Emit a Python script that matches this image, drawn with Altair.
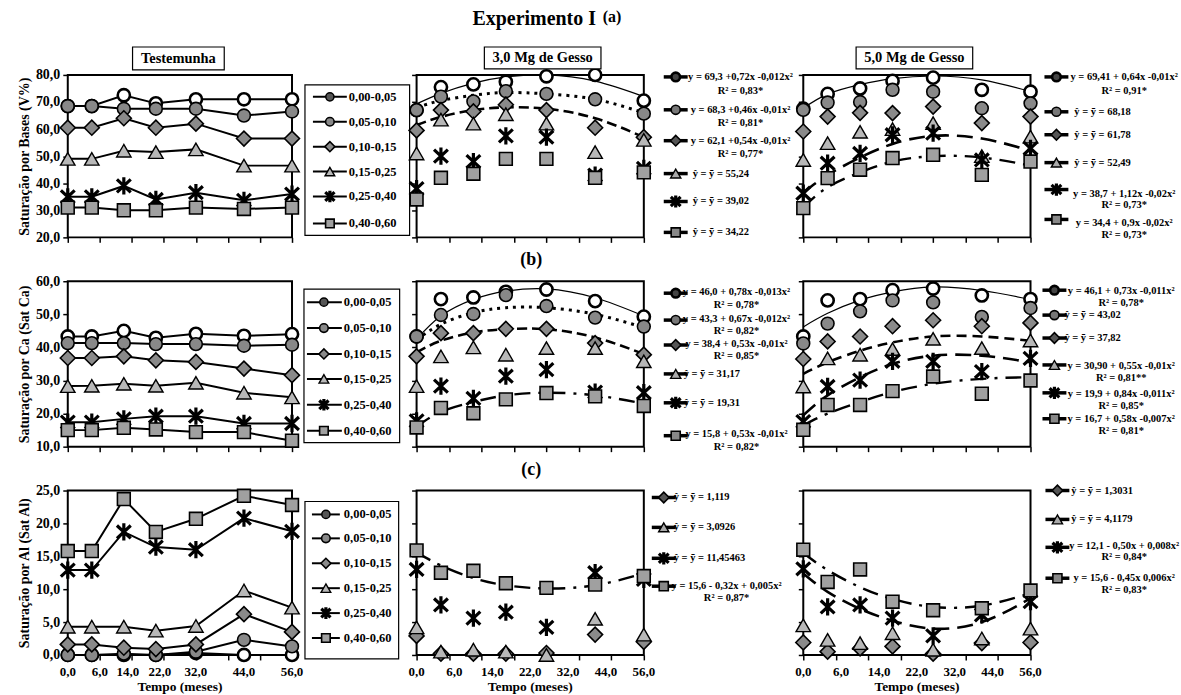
import altair as alt
import pandas as pd

FONT = "Liberation Serif"

MONTHS = [0, 6, 14, 22, 32, 44, 56]
DEPTHS = ["0,00-0,05", "0,05-0,10", "0,10-0,15", "0,15-0,25", "0,25-0,40", "0,40-0,60"]
XTICKS = [0, 8, 16, 24, 32, 40, 48, 56]
XLABELS = ["0,0", "6,0", "14,0", "22,0", "32,0", "44,0", "56,0"]
XLAB_POS_TEST = [0, 8, 15, 23, 32, 44, 56]
XLAB_POS_GESSO = [0, 9.33, 18.67, 28, 37.33, 46.67, 56]
PANEL_TITLES = ["Testemunha", "3,0 Mg de Gesso", "5,0 Mg de Gesso"]
Y_TITLES = ["Saturação por Bases (V%)", "Saturação por Ca (Sat Ca)", "Saturação por Al (Sat Al)"]

# ---------------- (a) V% ----------------
V_TEST = {
    0: [68.5, 68.5, 72.5, 69.5, 71.0, 71.0, 71.0],
    1: [68.5, 68.5, 67.5, 67.5, 67.5, 65.0, 66.5],
    2: [60.5, 60.5, 64.0, 60.5, 62.0, 56.5, 56.5],
    3: [49.0, 49.0, 52.0, 51.5, 52.5, 46.5, 46.5],
    4: [35.0, 35.0, 39.0, 34.0, 36.5, 33.7, 36.0],
    5: [31.0, 31.0, 30.0, 30.0, 31.0, 30.5, 31.0],
}
V_G3 = {
    0: [67.0, 75.5, 76.5, 77.5, 79.5, 80.0, 70.5],
    1: [67.0, 72.0, 70.2, 74.0, 73.0, 71.0, 65.7],
    2: [59.5, 67.0, 66.5, 69.0, 67.0, 60.5, 57.0],
    3: [51.0, 63.5, 62.0, 65.5, 62.0, 51.5, 56.0],
    4: [38.0, 50.0, 48.0, 57.5, 57.0, 43.0, 45.5],
    5: [34.0, 42.0, 43.5, 49.0, 49.0, 42.0, 44.0],
}
V_G3_FIT = {
    0: [69.3, 73.2, 77.0, 79.3, 80.0, 77.7, 72.0],
    1: [68.0, 70.5, 72.5, 73.5, 73.0, 71.0, 66.0],
    2: [61.5, 64.5, 67.0, 68.0, 67.5, 64.0, 57.0],
}
V_G5 = {
    0: [67.5, 73.0, 75.0, 77.8, 79.0, 74.5, 73.8],
    1: [67.1, 69.8, 70.0, 74.5, 73.8, 67.7, 69.5],
    2: [59.1, 64.6, 66.0, 65.9, 68.3, 62.2, 64.6],
    3: [48.6, 54.8, 59.0, 60.0, 62.2, 50.0, 57.2],
    4: [36.3, 47.4, 51.0, 57.9, 58.5, 48.6, 52.9],
    5: [30.8, 41.9, 45.0, 49.3, 50.5, 43.1, 48.0],
}
V_G5_FIT = {
    0: [67.7, 72.9, 76.4, 78.6, 79.6, 78.2, 73.9],
    4: [36.5, 43.0, 49.5, 54.5, 57.5, 56.5, 52.0],
    5: [31.0, 38.5, 44.0, 48.0, 50.0, 49.5, 46.5],
}

# ---------------- (b) Sat Ca ----------------
CA_TEST = {
    0: [43.3, 43.3, 45.0, 42.9, 44.1, 43.5, 44.0],
    1: [41.3, 41.3, 41.3, 41.0, 41.0, 40.5, 40.8],
    2: [36.8, 36.8, 37.3, 36.1, 35.6, 33.6, 31.6],
    3: [28.3, 28.4, 29.0, 28.4, 29.3, 26.3, 24.9],
    4: [17.4, 17.4, 18.4, 19.2, 19.2, 17.0, 17.0],
    5: [15.0, 15.0, 15.7, 15.2, 14.4, 14.4, 11.8],
}
CA_G3 = {
    0: [43.3, 54.6, 55.1, 56.8, 57.5, 54.0, 49.3],
    1: [43.3, 49.8, 50.1, 55.8, 52.5, 49.0, 46.3],
    2: [37.3, 44.3, 44.3, 45.6, 45.6, 41.3, 37.8],
    3: [28.3, 37.3, 40.0, 37.8, 39.8, 39.8, 35.8],
    4: [17.8, 28.3, 24.6, 31.3, 33.3, 26.5, 26.3],
    5: [15.8, 21.7, 20.1, 24.3, 26.2, 25.2, 22.3],
}
CA_G3_FIT = {
    0: [42.5, 49.5, 54.5, 57.0, 57.7, 55.0, 49.5],
    1: [42.3, 47.0, 50.5, 52.0, 52.0, 50.0, 46.0],
    2: [38.5, 42.0, 44.5, 45.5, 45.5, 43.0, 38.0],
    5: [16.0, 20.5, 23.5, 25.5, 26.3, 25.5, 23.0],
}
CA_G5 = {
    0: [43.3, 54.2, 54.6, 57.3, 57.8, 55.7, 54.6],
    1: [41.2, 47.2, 50.9, 54.2, 53.6, 49.2, 51.9],
    2: [36.5, 41.8, 43.3, 46.4, 48.2, 46.4, 47.4],
    3: [28.2, 36.7, 37.8, 39.5, 42.6, 39.8, 42.1],
    4: [17.6, 28.2, 30.1, 35.8, 35.8, 32.7, 36.7],
    5: [15.1, 22.6, 22.6, 26.8, 31.2, 26.0, 30.0],
}
CA_G5_FIT = {
    0: [46.2, 50.3, 54.3, 56.8, 58.3, 57.2, 54.5],
    3: [32.0, 35.5, 39.0, 41.5, 43.3, 43.3, 42.0],
    4: [19.5, 25.5, 31.0, 35.0, 37.5, 37.5, 35.5],
    5: [16.5, 20.0, 23.5, 26.5, 29.0, 30.5, 31.0],
}

# ---------------- (c) Sat Al ----------------
AL_TEST = {
    0: [0.0, 0.0, 0.0, 0.0, 0.3, 0.0, 0.0],
    1: [0.0, 0.0, 0.2, 0.0, 0.5, 2.3, 1.3],
    2: [1.6, 1.6, 1.1, 0.9, 1.6, 6.2, 3.5],
    3: [4.3, 4.3, 4.3, 3.7, 4.4, 9.8, 7.2],
    4: [12.9, 12.9, 18.7, 16.4, 16.0, 20.8, 18.8],
    5: [15.8, 15.8, 23.7, 18.7, 20.7, 24.2, 22.8],
}
AL_G3 = {
    2: [2.9, 0.2, 0.2, 0.2, 0.3, 3.1, 2.0],
    3: [4.2, 0.5, 0.8, 0.5, 0.0, 5.5, 3.1],
    4: [13.0, 7.6, 5.6, 6.5, 4.2, 12.5, 11.5],
    5: [15.9, 12.5, 12.8, 10.9, 10.2, 10.7, 12.0],
}
AL_G3_FIT = {
    5: [15.6, 13.6, 11.7, 10.6, 10.1, 10.6, 12.4],
}
AL_G5 = {
    2: [1.9, 0.5, 1.0, 1.3, 0.2, 1.8, 1.9],
    3: [4.5, 2.3, 1.8, 3.3, 0.8, 2.5, 4.0],
    4: [13.1, 7.3, 7.6, 5.6, 2.9, 6.1, 8.1],
    5: [16.0, 11.1, 13.0, 8.1, 6.8, 7.1, 9.8],
}
AL_G5_FIT = {
    4: [12.4, 9.6, 7.0, 5.2, 4.0, 5.0, 8.6],
    5: [15.5, 12.9, 10.3, 8.5, 7.3, 7.5, 9.4],
}

# ---------------- legend texts ----------------
LEG_A3 = [
    ["y = 69,3 +0,72x -0,012x²", "R² = 0,83*"],
    ["y = 68,3 +0,46x -0,01x²", "R² = 0,81*"],
    ["y = 62,1 +0,54x -0,01x²", "R² = 0,77*"],
    ["ŷ = ȳ =  55,24"],
    ["ŷ = ȳ =  39,02"],
    ["ŷ = ȳ =  34,22"],
]
LEG_A5 = [
    ["y = 69,41 + 0,64x -0,01x²", "R² = 0,91*"],
    ["ŷ = ȳ =  68,18"],
    ["ŷ = ȳ =  61,78"],
    ["ŷ = ȳ =  52,49"],
    ["y = 38,7 + 1,12x -0,02x²", "R² = 0,73*"],
    ["y = 34,4 + 0,9x -0,02x²", "R² = 0,73*"],
]
LEG_B3 = [
    ["y = 46,0 + 0,78x -0,013x²", "R² = 0,78*"],
    ["y = 43,3 + 0,67x -0,012x²", "R² = 0,82*"],
    ["y = 38,4 + 0,53x -0,01x²", "R² = 0,85*"],
    ["ŷ = ȳ =  31,17"],
    ["ŷ = ȳ = 19,31"],
    ["y = 15,8 + 0,53x -0,01x²", "R² = 0,82*"],
]
LEG_B5 = [
    ["y = 46,1 + 0,73x -0,011x²", "R² = 0,78*"],
    ["ŷ = ȳ = 43,02"],
    ["ŷ = ȳ =  37,82"],
    ["y = 30,90 + 0,55x -0,01x²", "R² = 0,81**"],
    ["y = 19,9 + 0,84x -0,011x²", "R² = 0,85*"],
    ["y = 16,7 + 0,58x -0,007x²", "R² = 0,81*"],
]
LEG_C3 = [
    ["ŷ = ȳ =  1,119"],
    ["ŷ = ȳ =  3,0926"],
    ["ŷ = ȳ =  11,45463"],
    ["y = 15,6  - 0,32x + 0,005x²", "R² = 0,87*"],
]
LEG_C5 = [
    ["ŷ = ȳ =  1,3031"],
    ["ŷ = ȳ =  4,1179"],
    ["y = 12,1  - 0,50x + 0,008x²", "R² = 0,84*"],
    ["y = 15,6 - 0,45x 0,006x²", "R² = 0,83*"],
]

# ---------------- styles ----------------
ASTER = "M-0.8,-0.75L0.8,0.75M-0.8,0.75L0.8,-0.75M0,-1L0,1"
STYLE = [
    dict(shape="circle", filled=True, fill="white", stroke="black", strokeWidth=2.6, size=150),
    dict(shape="circle", filled=True, fill="#888888", stroke="black", strokeWidth=1.6, size=165),
    dict(shape="diamond", filled=True, fill="#8a8a8a", stroke="black", strokeWidth=1.6, size=225),
    dict(shape="triangle-up", filled=True, fill="#b8b8b8", stroke="black", strokeWidth=1.4, size=210),
    dict(shape=ASTER, filled=False, stroke="black", strokeWidth=3.2, size=300),
    dict(shape="square", filled=True, fill="#a0a0a0", stroke="black", strokeWidth=1.6, size=165),
]
LEG_FILL = ["#444444", "#777777", "#555555", "#aaaaaa", "black", "#888888"]
FIT_STYLE = {
    0: dict(strokeWidth=1.2),
    1: dict(strokeWidth=3, strokeDash=[3, 5]),
    2: dict(strokeWidth=2.6, strokeDash=[10, 5]),
    3: dict(strokeWidth=2.6, strokeDash=[10, 6]),
    4: dict(strokeWidth=2.6, strokeDash=[16, 8]),
    5: dict(strokeWidth=2.4, strokeDash=[16, 8, 3, 8]),
}

W1, W2, W3 = 225, 228, 228
LW1, LW2, LW3 = 125, 160, 150
H = [163, 166, 165]
FRAME = alt.ViewBackground(stroke="black", strokeWidth=2, strokeOpacity=1)
NOFRAME = alt.ViewBackground(strokeOpacity=0)


def txt(t, x, y, size, align="center"):
    return alt.Chart(pd.DataFrame({"t": [t]})).mark_text(
        font=FONT, fontSize=size, fontWeight="bold", align=align, baseline="middle", color="black"
    ).encode(x=alt.value(x), y=alt.value(y), text="t:N")


def box(x1, x2, y1, y2, sw=1.2):
    return alt.Chart(pd.DataFrame({"a": [0]})).mark_rect(
        fill="white", stroke="black", strokeWidth=sw
    ).encode(x=alt.value(x1), x2=alt.value(x2), y=alt.value(y1), y2=alt.value(y2))


def panel(points, fits, ydom, yvals, W, Hh, col, ytitle="", connect=False, xlabpos=None, decor=()):
    xenc = alt.X("x:Q", scale=alt.Scale(domain=[0, 56], nice=False, zero=False),
                 axis=alt.Axis(values=XTICKS, labels=False, ticks=True, tickSize=5, tickWidth=1.5,
                               tickColor="black", domain=False, grid=False, title=""))
    yaxis = alt.Axis(values=yvals, labels=(col == 0), ticks=True, tickSize=5, tickWidth=1.5,
                     tickColor="black", domain=False, grid=False,
                     title=(ytitle if col == 0 else ""),
                     labelExpr="replace(format(datum.value, '.1f'), '.', ',')",
                     labelFont=FONT, labelFontSize=14, labelFontWeight="bold", labelColor="black",
                     labelPadding=3, titleFont=FONT, titleFontSize=14, titleFontWeight="bold",
                     titleColor="black", titlePadding=4)
    yenc = alt.Y("y:Q", scale=alt.Scale(domain=ydom, nice=False, zero=False), axis=yaxis)
    layers = []
    for k, vals in fits.items():
        layers.append(alt.Chart(pd.DataFrame({"x": MONTHS, "y": vals})).mark_line(
            color="black", interpolate="natural", **FIT_STYLE[k]).encode(x=xenc, y=yenc))
    if connect:
        for k, vals in points.items():
            layers.append(alt.Chart(pd.DataFrame({"x": MONTHS, "y": vals})).mark_line(
                color="black", strokeWidth=2).encode(x=xenc, y=yenc))
    for k, vals in points.items():
        layers.append(alt.Chart(pd.DataFrame({"x": MONTHS, "y": vals})).mark_point(
            opacity=1, **STYLE[k]).encode(x=xenc, y=yenc))
    if xlabpos is not None:
        layers.append(alt.Chart(pd.DataFrame({"x": xlabpos, "t": XLABELS})).mark_text(
            font=FONT, fontSize=13, fontWeight="bold", baseline="middle", color="black"
        ).encode(x=xenc, y=alt.value(Hh + 17), text="t:N"))
        layers.append(txt("Tempo (meses)", W / 2, Hh + 32, 13.5))
    layers.extend(decor)
    return alt.layer(*layers).properties(width=W, height=Hh, view=FRAME)


def legend_box(W, Hh, bx, items_y, lx1, lx2, mx, tx):
    layers = [box(bx[0], bx[1], bx[2], bx[3], 1.2)]
    for k, yy in enumerate(items_y):
        layers.append(alt.Chart(pd.DataFrame({"a": [0]})).mark_rule(color="black", strokeWidth=2).encode(
            x=alt.value(lx1), x2=alt.value(lx2), y=alt.value(yy)))
        st = dict(STYLE[k])
        st["size"] = st["size"] * 0.45
        if k == 0:
            st["fill"] = "#555555"
            st["strokeWidth"] = 1.5
        layers.append(alt.Chart(pd.DataFrame({"a": [0]})).mark_point(opacity=1, **st).encode(
            x=alt.value(mx), y=alt.value(yy)))
        layers.append(txt(DEPTHS[k], tx, yy, 12.5, align="left"))
    return alt.layer(*layers).properties(width=W, height=Hh, view=NOFRAME)


def legend_eq(W, Hh, series, texts, pos, mx, xc, xl):
    layers = []
    for k, tlist, p in zip(series, texts, pos):
        my = p[0]
        layers.append(alt.Chart(pd.DataFrame({"a": [0]})).mark_rule(color="black", strokeWidth=3.5).encode(
            x=alt.value(mx - 12), x2=alt.value(mx + 12), y=alt.value(my)))
        st = dict(STYLE[k])
        st["size"] = st["size"] * 0.5
        if st.get("filled"):
            st["fill"] = LEG_FILL[k]
        layers.append(alt.Chart(pd.DataFrame({"a": [0]})).mark_point(opacity=1, **st).encode(
            x=alt.value(mx), y=alt.value(my)))
        if len(tlist) == 1:
            layers.append(txt(tlist[0], xl, p[1], 10.5, align="left"))
        else:
            layers.append(txt(tlist[0], xc, p[1], 10.5))
            layers.append(txt(tlist[1], xc, p[2], 10.5))
    return alt.layer(*layers).properties(width=W, height=Hh, view=NOFRAME)


ALL6 = [0, 1, 2, 3, 4, 5]

# ---------- row (a) ----------
h = H[0]
a1 = panel(V_TEST, {}, [20, 80], [20, 30, 40, 50, 60, 70, 80], W1, h, 0, Y_TITLES[0], connect=True,
           decor=[box(65, 157, -28, -5), txt(PANEL_TITLES[0], 111, -16, 14.5)])
aL1 = legend_box(LW1, h, (13, 118, 10, 161), [22, 47, 72, 97, 122, 149], 21, 55, 38, 57)
a2 = panel(V_G3, V_G3_FIT, [20, 80], [20, 30, 40, 50, 60, 70, 80], W2, h, 1,
           decor=[box(68, 185, -28, -6), txt(PANEL_TITLES[1], 126.5, -17, 14.5),
                  txt("Experimento I", 118, -56, 20), txt("(a)", 196, -58, 16)])
aL2 = legend_eq(LW2, h, ALL6, LEG_A3,
                [(2, 2, 16), (35, 35, 48), (66, 66, 79), (99, 99), (127, 127), (158, 158)], 32, 97, 49)
a3 = panel(V_G5, V_G5_FIT, [20, 80], [20, 30, 40, 50, 60, 70, 80], W3, h, 2,
           decor=[box(53, 170, -28, -6), txt(PANEL_TITLES[2], 111.5, -17, 14.5)])
aL3 = legend_eq(LW3, h, ALL6, LEG_A5,
                [(2, 2, 16), (37, 37), (60, 60), (88, 88), (115, 119, 131), (145, 149, 161)], 26, 94, 44)

# ---------- row (b) ----------
h = H[1]
b1 = panel(CA_TEST, {}, [10, 60], [10, 20, 30, 40, 50, 60], W1, h, 0, Y_TITLES[1], connect=True)
bL1 = legend_box(LW1, h, (12, 108, 8, 162), [21, 47, 73, 98, 124, 150], 15, 50, 32, 52)
b2 = panel(CA_G3, CA_G3_FIT, [10, 60], [10, 20, 30, 40, 50, 60], W2, h, 1,
           decor=[txt("(b)", 115, -21, 18)])
bL2 = legend_eq(LW2, h, ALL6, LEG_B3,
                [(12, 11, 24), (39, 38, 50), (64, 63, 75), (93, 93), (122, 122), (155, 153, 166)], 32, 93, 40)
b3 = panel(CA_G5, CA_G5_FIT, [10, 60], [10, 20, 30, 40, 50, 60], W3, h, 2)
bL3 = legend_eq(LW3, h, ALL6, LEG_B5,
                [(9, 10, 22), (34, 34), (57, 57), (84, 85, 97), (112, 113, 125), (138, 138, 150)], 24, 91, 34)

# ---------- row (c) ----------
h = H[2]
c1 = panel(AL_TEST, {}, [0, 25], [0, 5, 10, 15, 20, 25], W1, h, 0, Y_TITLES[2], connect=True,
           xlabpos=XLAB_POS_TEST)
cL1 = legend_box(LW1, h, (13, 107, 11, 169), [24, 48, 73, 98, 123, 148], 20, 48, 34, 52)
c2 = panel(AL_G3, AL_G3_FIT, [0, 25], [0, 5, 10, 15, 20, 25], W2, h, 1, xlabpos=XLAB_POS_GESSO,
           decor=[txt("(c)", 115, -21, 18)])
cL2 = legend_eq(LW2, h, [2, 3, 4, 5], LEG_C3,
                [(7, 7), (37, 37), (68, 68), (96, 96, 108)], 20, 83, 30)
c3 = panel(AL_G5, AL_G5_FIT, [0, 25], [0, 5, 10, 15, 20, 25], W3, h, 2, xlabpos=XLAB_POS_GESSO)
cL3 = legend_eq(LW3, h, [2, 3, 4, 5], LEG_C5,
                [(0, 0), (29, 29), (57, 56, 67), (88, 88, 100)], 27, 94, 41)

cells = [a1, aL1, a2, aL2, a3, aL3,
         b1, bL1, b2, bL2, b3, bL3,
         c1, cL1, c2, cL2, c3, cL3]

chart = alt.concat(*cells, columns=6, spacing={"row": 44, "column": 0}, bounds="flush").properties(
    padding={"left": 16, "top": 7, "right": 0, "bottom": 0}
).configure(font=FONT).configure_view(stroke="black", strokeWidth=2)

chart.save("out.html", embed_options={"renderer": "svg", "actions": False})
